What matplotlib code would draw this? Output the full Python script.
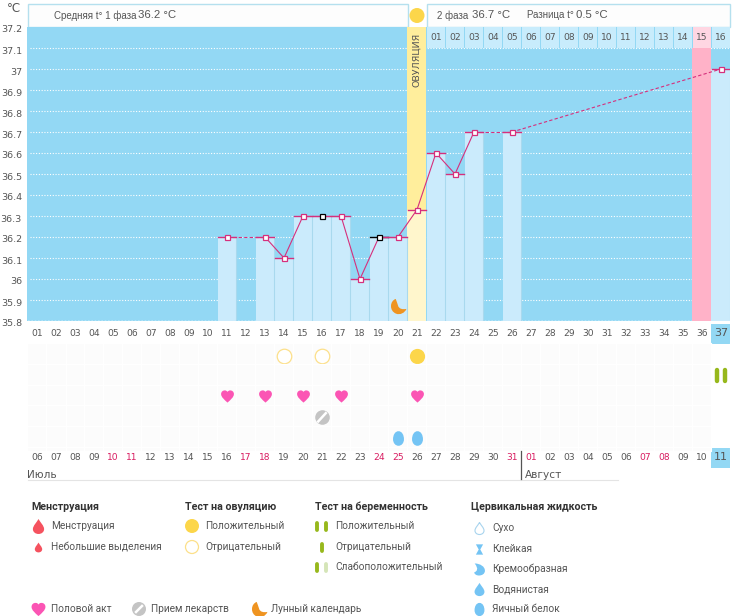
import matplotlib
matplotlib.use('Agg')
import matplotlib.pyplot as plt
from matplotlib.patches import Rectangle, Circle
from matplotlib.path import Path
from matplotlib.transforms import ScaledTranslation

W, H = 739, 616

temp_days = [11, 13, 14, 15, 16, 17, 18, 19, 20, 21, 22, 23, 24, 26, 37]
temps = [36.2, 36.2, 36.1, 36.3, 36.3, 36.3, 36.0, 36.2, 36.2, 36.33, 36.6, 36.5, 36.7, 36.7, 37.0]
black_days = [16, 19]
y_ticks = [37.2, 37.1, 37.0, 36.9, 36.8, 36.7, 36.6, 36.5, 36.4, 36.3, 36.2, 36.1, 36.0, 35.9, 35.8]
y_labels = ['37.2', '37.1', '37', '36.9', '36.8', '36.7', '36.6', '36.5', '36.4', '36.3', '36.2', '36.1', '36', '35.9', '35.8']

cycle_days = list(range(1, 38))
phase2_labels = ['01', '02', '03', '04', '05', '06', '07', '08', '09', '10', '11', '12', '13', '14', '15', '16']
dates = ['06', '07', '08', '09', '10', '11', '12', '13', '14', '15', '16', '17', '18', '19', '20', '21', '22', '23', '24',
         '25', '26', '27', '28', '29', '30', '31', '01', '02', '03', '04', '05', '06', '07', '08', '09', '10', '11']
weekend_days = [5, 6, 12, 13, 19, 20, 26, 27, 33, 34]

ovulation_day = 21
peak_day = 36
moon_day = 20
ovu_pos_days = [21]
ovu_neg_days = [14, 16]
preg_pos_days = [37]
heart_days = [11, 13, 15, 17, 21]
pill_days = [16]
fluid_days = [20, 21]

BLUE = '#93d8f4'
LIGHT = '#cbebfc'
LINE = '#d62f7c'
TEXT = '#555555'
YELLOW = '#fcd64a'
GREEN = '#97b81c'
DROP_RED = '#f5525f'
HEART = '#fb55b4'
GREY = '#c4c4c4'
ORANGE = '#ef9421'
FLUID = '#74c4f4'
LEGEND_FONT = 'Roboto'
HEAD_FONT = 'Liberation Sans'

HEART_PATH = Path(
    [(0, -1), (-0.55, -0.5), (-1.05, -0.1), (-1.05, 0.4), (-1.05, 0.8), (-0.75, 1), (-0.45, 1), (-0.2, 1), (0, 0.85),
     (0, 0.7), (0, 0.85), (0.2, 1), (0.45, 1), (0.75, 1), (1.05, 0.8), (1.05, 0.4), (1.05, -0.1), (0.55, -0.5), (0, -1)],
    [1, 4, 4, 4, 4, 4, 4, 4, 4, 4, 4, 4, 4, 4, 4, 4, 4, 4, 4])
DROP_PATH = Path(
    [(0, 1), (0.25, 0.55), (0.75, 0.1), (0.75, -0.35), (0.75, -0.75), (0.4, -1), (0, -1), (-0.4, -1), (-0.75, -0.75),
     (-0.75, -0.35), (-0.75, 0.1), (-0.25, 0.55), (0, 1)],
    [1, 4, 4, 4, 4, 4, 4, 4, 4, 4, 4, 4, 4])
MOON_PATH = Path(
    [(-0.35, 0.95), (-1.1, 0.7), (-1.2, -0.55), (-0.3, -0.9), (0.2, -1.1), (0.8, -0.8), (1, -0.3), (0.5, -0.4),
     (0.05, -0.3), (-0.05, 0.1), (-0.15, 0.4), (-0.25, 0.7), (-0.35, 0.95)],
    [1, 4, 4, 4, 4, 4, 4, 4, 4, 4, 4, 4, 4])
EGG_PATH = Path(
    [(0, 1), (0.5, 1), (0.75, 0.45), (0.75, -0.1), (0.75, -0.65), (0.4, -1), (0, -1), (-0.4, -1), (-0.75, -0.65),
     (-0.75, -0.1), (-0.75, 0.45), (-0.5, 1), (0, 1)],
    [1, 4, 4, 4, 4, 4, 4, 4, 4, 4, 4, 4, 4])
STICKY_PATH = Path(
    [(-0.7, 1), (0.7, 1), (0.15, 0), (0.7, -1), (-0.7, -1), (-0.15, 0), (-0.7, 1)],
    [1, 2, 2, 2, 2, 2, 2])
CREAM_PATH = Path(
    [(-0.8, 1), (0.1, 1), (0.9, 0.5), (0.9, -0.2), (0.9, -0.75), (0.4, -1), (-0.1, -1), (-0.5, -1), (-0.8, -0.8),
     (-0.9, -0.5), (-0.4, -0.3), (-0.1, 0.1), (-0.8, 1)],
    [1, 4, 4, 4, 4, 4, 4, 4, 4, 4, 4, 4, 4])


def axes_px(x0, y0, x1, y1):
    return fig.add_axes([x0 / W, 1 - y1 / H, (x1 - x0) / W, (y1 - y0) / H])


fig = plt.figure(figsize=(W / 100, H / 100), dpi=100, facecolor='white')

# page axes in pixels, for the header and legend
page = axes_px(0, 0, W, H)
page.set_xlim(0, W)
page.set_ylim(H, 0)
page.axis('off')

# temperature chart
ax = axes_px(27.5, 27, 730.5, 321)
ax.set_xlim(0.5, 37.5)
ax.set_ylim(35.8, 37.2)
ax.set_facecolor(BLUE)
for s in ax.spines.values():
    s.set_visible(False)
ax.set_xticks([])
ax.set_yticks(y_ticks, y_labels)
ax.tick_params(axis='y', length=0, pad=4, labelsize=6.8, labelcolor=TEXT)
for lab in ax.get_yticklabels():
    lab.set_transform(lab.get_transform() + ScaledTranslation(0, -2 / 100, fig.dpi_scale_trans))

for t in y_ticks[1:-1]:
    ax.plot([0.65, 37.5], [t, t], color='white', lw=0.8, ls=(0, (1, 1.5)), zorder=1)
ax.plot([0.5, 37.5], [35.8, 35.8], color='#b5e6fa', lw=1.2, ls=(0, (1, 1)), zorder=1)

ax.axvspan(ovulation_day - 0.5, ovulation_day + 0.5, color='#ffee9c', lw=0, zorder=1.5)
ax.axvspan(peak_day - 0.5, peak_day + 0.5, ymax=13 / 14, color='#ffb2c8', lw=0, zorder=1.5)

for d, t in zip(temp_days, temps):
    if d == ovulation_day:
        color = '#fff6cc'
    else:
        color = LIGHT
    ax.bar(d, t - 35.8, bottom=35.8, width=0.96 if d not in (ovulation_day, 37) else 1, color=color, lw=0, zorder=2)
    if d != ovulation_day:
        ax.plot([d + 0.5, d + 0.5], [35.8, t], color='#a9d9ee', lw=0.8, zorder=2.2)

# phase 2 day row at the top of the chart
for d, lab in zip(range(ovulation_day + 1, 38), phase2_labels):
    c = '#ffd6e2' if d == peak_day else '#c8ecfc'
    ax.add_patch(Rectangle((d - 0.47, 37.1), 0.94, 0.1, color=c, lw=0, zorder=2))
    ax.text(d, 37.15, lab, ha='center', va='center', fontsize=6.6, color=TEXT, zorder=3)

ax.text(ovulation_day, 37.045, 'ОВУЛЯЦИЯ', rotation=90, ha='center', va='center', fontsize=6.8, color=TEXT, zorder=3)

# temperature line, solid between neighbouring days, dashed over gaps
for i in range(len(temp_days) - 1):
    solid = temp_days[i + 1] - temp_days[i] == 1
    ax.plot(temp_days[i:i + 2], temps[i:i + 2], color=LINE, lw=0.8, ls='-' if solid else (0, (3, 2)), zorder=4)
for d, t in zip(temp_days, temps):
    col = 'black' if d in black_days else LINE
    ax.plot([d - 0.48, d + 0.48], [t, t], color=col if d == 19 else LINE, lw=1, zorder=4)
    if d == 19:
        ax.plot([d, d + 0.48], [t, t], color=LINE, lw=1, zorder=4.1)
    ax.plot(d, t, 's', ms=3.6, mfc='white', mec=col, mew=0.9, zorder=5)

ax.scatter([moon_day], [35.87], marker=MOON_PATH, s=190, color=ORANGE, lw=0, zorder=5)

# header boxes
page.add_patch(Rectangle((27.5, 3.5), 380, 23.5, fc='#fdfdfd', ec='#b5e0ee', lw=1))
page.add_patch(Rectangle((426.5, 3.5), 303, 23.5, fc='#fdfdfd', ec='#b5e0ee', lw=1))
page.add_patch(Circle((417, 15.5), 7.5, color=YELLOW, lw=0))
page.text(14, 8, '°C', fontsize=8.5, color=TEXT, ha='center', va='center')
page.text(54.5, 15.5, 'Средняя t° 1 фаза', fontsize=7, family=HEAD_FONT, color=TEXT, va='center')
page.text(138, 15, '36.2 °C', fontsize=8.2, family=HEAD_FONT, color=TEXT, va='center')
page.text(437, 15.5, '2 фаза', fontsize=7, family=HEAD_FONT, color=TEXT, va='center')
page.text(472, 15, '36.7 °C', fontsize=8.2, family=HEAD_FONT, color=TEXT, va='center')
page.text(527, 15.5, 'Разница t°', fontsize=7, family=HEAD_FONT, color=TEXT, va='center')
page.text(576, 15, '0.5 °C', fontsize=8.2, family=HEAD_FONT, color=TEXT, va='center')

# lower table, rows count from the cycle day row (0) to the month row
low = axes_px(27.5, 323.5, 730.5, 484)
low.set_xlim(0.5, 37.5)
low.set_ylim(7.75, 0)
low.axis('off')
low.add_patch(Rectangle((0.5, 0.95), 36, 5.2, color='#fcfcfc', lw=0))
for d in cycle_days:
    low.plot([d + 0.5, d + 0.5], [0.95, 6.15], color='white', lw=0.8)
for r in [1, 2, 3, 4, 5, 6]:
    low.plot([0.5, 36.5], [r - 0.05, r - 0.05], color='white', lw=0.8)
low.add_patch(Rectangle((36.5, 0), 1, 1, color=BLUE, lw=0))
low.add_patch(Rectangle((36.5, 6.02), 1, 0.95, color=BLUE, lw=0))

for d in cycle_days:
    low.text(d, 0.47, '%02d' % d, ha='center', va='center', fontsize=8 if d == 37 else 6.6, color=TEXT)
for d, lab in zip(cycle_days, dates):
    col = '#d81b60' if d in weekend_days else TEXT
    low.text(d, 6.47, lab, ha='center', va='center', fontsize=8 if d == 37 else 6.6, color=col)

low.text(0.5, 7.3, 'Июль', fontsize=7.6, color=TEXT, va='center')
low.text(26.7, 7.3, 'Август', fontsize=7.6, color=TEXT, va='center')
low.plot([0.5, 31.6], [7.55, 7.55], color='#e4e4e4', lw=0.8)
low.plot([26.5, 26.5], [6.15, 7.5], color='#555555', lw=0.9)

low.scatter(ovu_pos_days, [1.55] * len(ovu_pos_days), s=120, color=YELLOW, lw=0)
low.scatter(ovu_neg_days, [1.55] * len(ovu_neg_days), s=110, fc='white', ec='#fce08a', lw=0.9)
for d in preg_pos_days:
    low.plot([d - 0.2, d - 0.2], [2.25, 2.8], color=GREEN, lw=3.2, solid_capstyle='round')
    low.plot([d + 0.2, d + 0.2], [2.25, 2.8], color=GREEN, lw=3.2, solid_capstyle='round')
low.scatter(heart_days, [3.52] * len(heart_days), marker=HEART_PATH, s=85, color=HEART, lw=0)
low.scatter(pill_days, [4.53] * len(pill_days), s=110, color=GREY, lw=0)
for d in pill_days:
    low.plot([d - 0.2, d + 0.2], [4.73, 4.33], color='white', lw=1.8)
low.scatter(fluid_days, [5.53] * len(fluid_days), marker=EGG_PATH, s=110, color=FLUID, lw=0)

# legend
for x, y, s in [(31, 507, 'Менструация'), (185, 507, 'Тест на овуляцию'), (315, 507, 'Тест на беременность'),
                (471, 507, 'Цервикальная жидкость')]:
    page.text(x, y, s, fontsize=7.7, fontweight='bold', family=LEGEND_FONT, color='#333333', va='center')

legend_items = [
    (51, 526, 'Менструация'), (51, 547, 'Небольшие выделения'),
    (205, 526, 'Положительный'), (205, 547, 'Отрицательный'),
    (335, 526, 'Положительный'), (335, 547, 'Отрицательный'), (335, 567, 'Слабоположительный'),
    (492, 528, 'Сухо'), (492, 549, 'Клейкая'), (492, 569, 'Кремообразная'), (492, 589, 'Водянистая'),
    (492, 609, 'Яичный белок'),
    (51, 609, 'Половой акт'), (151, 609, 'Прием лекарств'), (271, 609, 'Лунный календарь'),
]
for x, y, s in legend_items:
    page.text(x, y, s, fontsize=7.25, family=LEGEND_FONT, color='#555555', va='center')

page.scatter([38], [526], marker=DROP_PATH, s=116, color=DROP_RED, lw=0)
page.scatter([38], [547], marker=DROP_PATH, s=50, color=DROP_RED, lw=0)
page.add_patch(Circle((192, 526), 7, color=YELLOW, lw=0))
page.add_patch(Circle((192, 547), 6.5, fc='white', ec='#fce08a', lw=0.9))
page.plot([317, 317], [523, 530], color=GREEN, lw=2.8, solid_capstyle='round')
page.plot([326, 326], [523, 530], color=GREEN, lw=2.8, solid_capstyle='round')
page.plot([322, 322], [544, 551], color=GREEN, lw=2.8, solid_capstyle='round')
page.plot([317, 317], [564, 571], color=GREEN, lw=2.8, solid_capstyle='round')
page.plot([326, 326], [564, 571], color='#d5e5b8', lw=2.8, solid_capstyle='round')

page.scatter([479], [528], marker=DROP_PATH, s=75, fc='white', ec='#a8d4ee', lw=0.8)
page.scatter([479], [549], marker=STICKY_PATH, s=55, color=FLUID, lw=0)
page.scatter([479], [569], marker=CREAM_PATH, s=75, color=FLUID, lw=0)
page.scatter([479], [589], marker=DROP_PATH, s=90, color=FLUID, lw=0)
page.scatter([479], [609], marker=EGG_PATH, s=90, color=FLUID, lw=0)

page.scatter([38], [609], marker=HEART_PATH, s=100, color=HEART, lw=0)
page.add_patch(Circle((139, 609), 7, color=GREY, lw=0))
page.plot([136, 142], [612, 606], color='white', lw=1.8)
page.scatter([259], [609], marker=MOON_PATH, s=190, color=ORANGE, lw=0)

fig.savefig('out.png', dpi=100)
